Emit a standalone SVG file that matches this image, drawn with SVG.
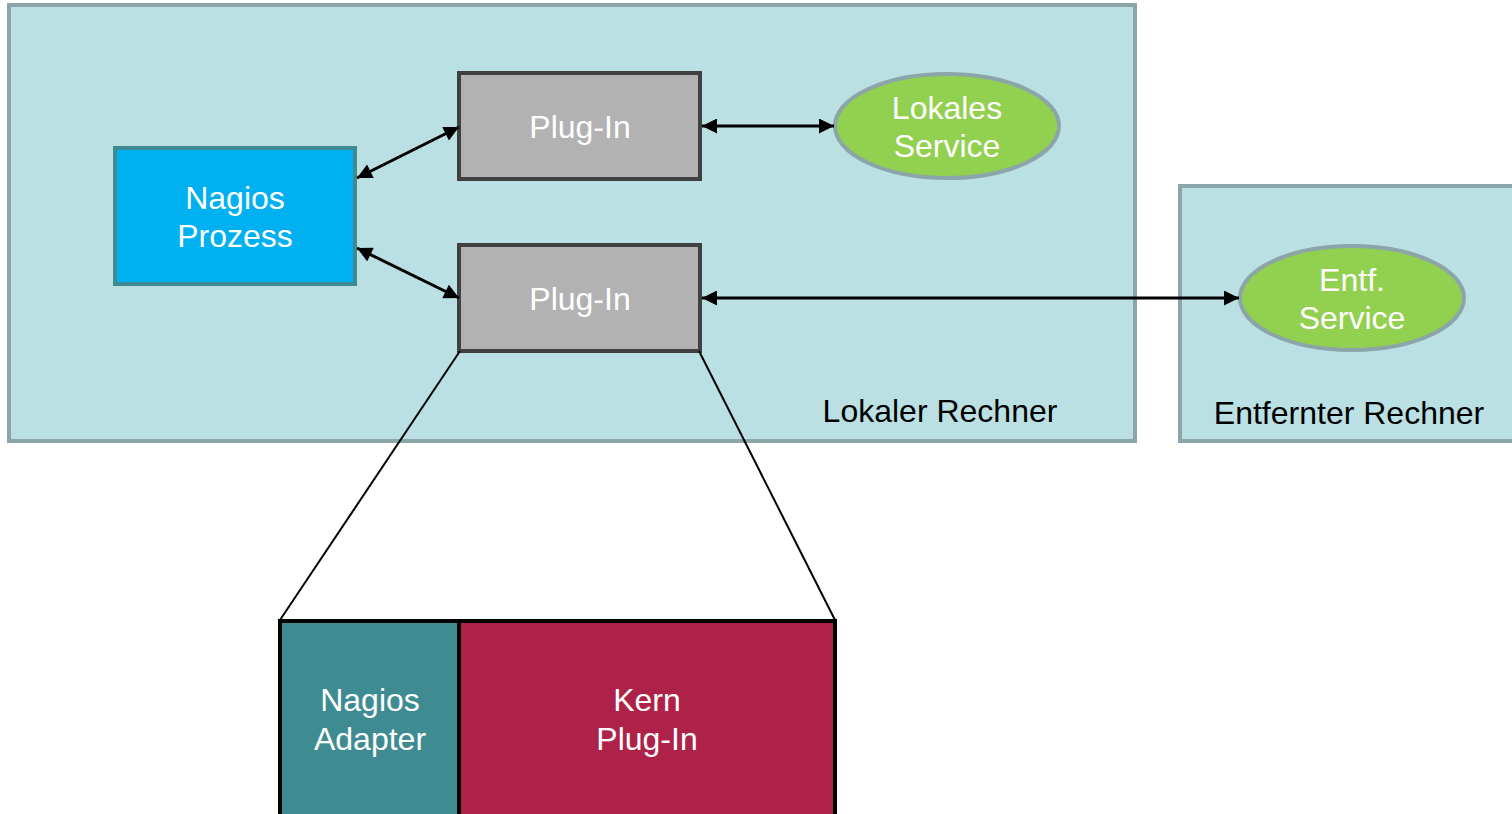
<svg xmlns="http://www.w3.org/2000/svg" width="1512" height="814" viewBox="0 0 1512 814">
<defs>
<marker id="ah" viewBox="0 0 10 10" refX="10" refY="5" markerWidth="5.6" markerHeight="5" orient="auto-start-reverse" markerUnits="strokeWidth">
<path d="M0,0 L10,5 L0,10 z" fill="#000"/>
</marker>
<style>
.t{font-family:"Liberation Sans",Arial,sans-serif;font-size:32px;text-anchor:middle;fill:#fff}
.lbl{font-family:"Liberation Sans",Arial,sans-serif;font-size:32px;text-anchor:middle;fill:#000}
.host{fill:#BAE0E3;stroke:#8BA5A8;stroke-width:4}
.plug{fill:#B2B2B2;stroke:#404040;stroke-width:4}
.svc{fill:#92D050;stroke:#8BA5A8;stroke-width:4}
.c{stroke:#000;stroke-width:3;fill:none}
</style>
</defs>
<rect width="1512" height="814" fill="#fff"/>
<g id="lokaler-rechner">
<rect class="host" x="9" y="5" width="1126" height="436"/>
<text class="lbl" x="940" y="422">Lokaler Rechner</text>
</g>
<g id="entfernter-rechner">
<rect class="host" x="1180" y="186" width="340" height="255"/>
<text class="lbl" x="1349" y="424">Entfernter Rechner</text>
</g>
<g id="nagios-prozess">
<rect x="115" y="148" width="240" height="136" fill="#00B0F0" stroke="#3E8C92" stroke-width="4"/>
<text class="t" x="235" y="209">Nagios</text>
<text class="t" x="235" y="247">Prozess</text>
</g>
<g id="plugin-1">
<rect class="plug" x="459" y="73" width="241" height="106"/>
<text class="t" x="580" y="138">Plug-In</text>
</g>
<g id="plugin-2">
<rect class="plug" x="459" y="245" width="241" height="106"/>
<text class="t" x="580" y="310">Plug-In</text>
</g>
<g id="lokales-service">
<ellipse class="svc" cx="947" cy="126" rx="112" ry="52"/>
<text class="t" x="947" y="119">Lokales</text>
<text class="t" x="947" y="157">Service</text>
</g>
<g id="entf-service">
<ellipse class="svc" cx="1352" cy="298" rx="112" ry="52"/>
<text class="t" x="1352" y="291">Entf.</text>
<text class="t" x="1352" y="329">Service</text>
</g>
<g id="connectors">
<line class="c" x1="357" y1="178" x2="459" y2="127" marker-start="url(#ah)" marker-end="url(#ah)"/>
<line class="c" x1="357" y1="248" x2="459" y2="298" marker-start="url(#ah)" marker-end="url(#ah)"/>
<line class="c" x1="702" y1="126" x2="834" y2="126" marker-start="url(#ah)" marker-end="url(#ah)"/>
<line class="c" x1="702" y1="298" x2="1239" y2="298" marker-start="url(#ah)" marker-end="url(#ah)"/>
<line stroke="#000" stroke-width="2" x1="460" y1="351" x2="280" y2="620"/>
<line stroke="#000" stroke-width="2" x1="699" y1="351" x2="835" y2="620"/>
</g>
<g id="nagios-adapter">
<rect x="280" y="621" width="179" height="200" fill="#3E8C92" stroke="#000" stroke-width="4"/>
<text class="t" x="370" y="711">Nagios</text>
<text class="t" x="370" y="750">Adapter</text>
</g>
<g id="kern-plugin">
<rect x="459" y="621" width="376" height="200" fill="#AE2249" stroke="#000" stroke-width="4"/>
<text class="t" x="647" y="711">Kern</text>
<text class="t" x="647" y="750">Plug-In</text>
</g>
</svg>
